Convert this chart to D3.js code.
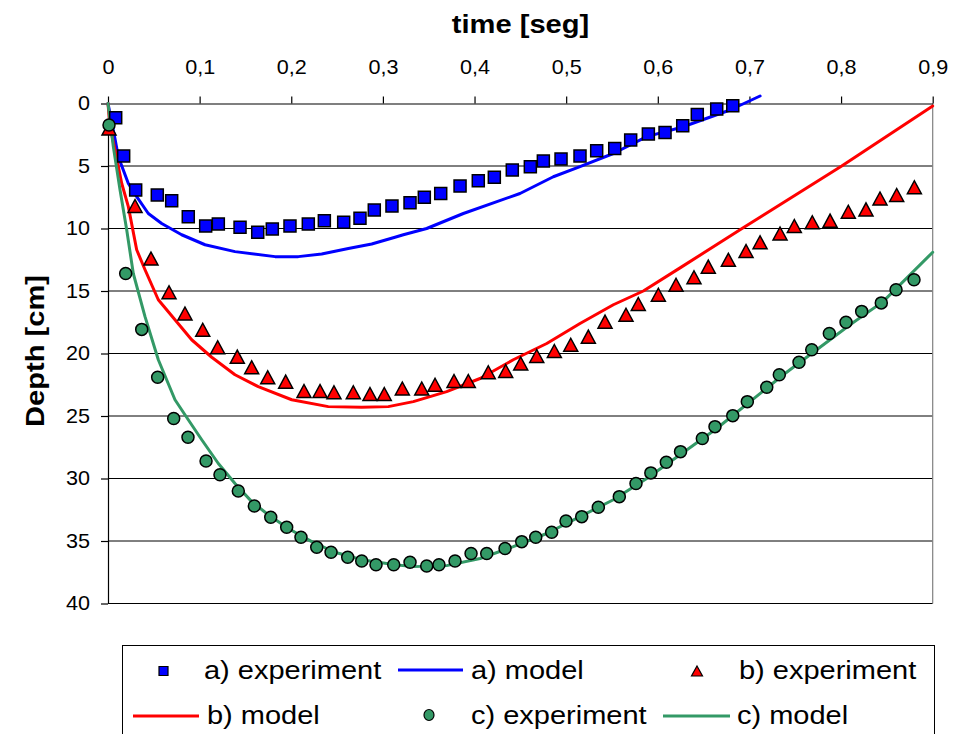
<!DOCTYPE html>
<html>
<head>
<meta charset="utf-8">
<script src="https://cdn.jsdelivr.net/npm/d3@7"></script>
<style>
  html, body { margin: 0; padding: 0; background: #fff; }
  svg { display: block; }
  text { font-family: "Liberation Sans", Arial, sans-serif; fill: #000; }
</style>
</head>
<body>
<div id="chart"></div>
<script>
// Axis ticks
const timeTicks = [0, 0.1, 0.2, 0.3, 0.4, 0.5, 0.6, 0.7, 0.8, 0.9];
const depthTicks = [0, 5, 10, 15, 20, 25, 30, 35, 40];

// a) experiment (time s, depth cm)
const aExpTime = [0.0084, 0.0171, 0.0302, 0.0538, 0.0695, 0.0876, 0.1066, 0.1204, 0.1441, 0.1634,
  0.1793, 0.1986, 0.2186, 0.2361, 0.2572, 0.2750, 0.2906, 0.3099, 0.3296, 0.3452,
  0.3631, 0.3842, 0.4041, 0.4216, 0.4412, 0.4609, 0.4751, 0.4944, 0.5151, 0.5333,
  0.5530, 0.5704, 0.5897, 0.6079, 0.6272, 0.6431, 0.6643, 0.6818];
const aExpDepth = [1.14, 4.2, 6.92, 7.32, 7.77, 9.05, 9.8, 9.64, 9.9, 10.3,
  10.04, 9.8, 9.64, 9.37, 9.5, 9.18, 8.52, 8.2, 7.93, 7.5,
  7.19, 6.6, 6.17, 5.9, 5.32, 5.05, 4.6, 4.44, 4.2, 3.78,
  3.59, 2.92, 2.44, 2.31, 1.77, 0.87, 0.44, 0.17];

// a) model
const aModelTime = [0, 0.0076, 0.0112, 0.0222, 0.0313, 0.044, 0.0586, 0.0804, 0.1059, 0.1386,
  0.1823, 0.2077, 0.2332, 0.2623, 0.2878, 0.3132, 0.3223, 0.3478, 0.3878, 0.4496,
  0.486, 0.5151, 0.5515, 0.5879, 0.6261, 0.6788, 0.7116];
const aModelDepth = [0, 2.8, 4.25, 6.4, 7.45, 8.8, 9.6, 10.5, 11.3, 11.85,
  12.25, 12.25, 12.04, 11.6, 11.24, 10.7, 10.5, 10.0, 8.8, 7.2,
  5.86, 5.05, 4.0, 2.65, 1.9, 0.52, -0.6];

// b) experiment
const bExpTime = [0.0011, 0.0295, 0.0469, 0.0666, 0.084, 0.1034, 0.1197, 0.1411, 0.1568, 0.1743,
  0.1939, 0.2139, 0.2314, 0.2466, 0.2677, 0.2859, 0.3015, 0.3212, 0.3424, 0.3569,
  0.3776, 0.3932, 0.415, 0.434, 0.4504, 0.4679, 0.4871, 0.505, 0.5242, 0.5424,
  0.5653, 0.5787, 0.6006, 0.6199, 0.6395, 0.6551, 0.677, 0.6963, 0.7116, 0.7334,
  0.749, 0.7686, 0.788, 0.8079, 0.8272, 0.8425, 0.8607, 0.88];
const bExpDepth = [2.0, 8.2, 12.4, 15.1, 16.8, 18.1, 19.5, 20.25, 21.1, 21.9,
  22.25, 23.0, 23.0, 23.1, 23.1, 23.24, 23.24, 22.8, 22.8, 22.5,
  22.2, 22.2, 21.5, 21.4, 20.8, 20.2, 19.8, 19.3, 18.65, 17.45,
  16.9, 16.04, 15.3, 14.5, 13.9, 13.05, 12.5, 11.8, 11.1, 10.4,
  9.8, 9.5, 9.37, 8.66, 8.47, 7.6, 7.32, 6.7];

// b) model
const bModelTime = [0, 0.0022, 0.0076, 0.015, 0.0222, 0.0313, 0.0404, 0.0549, 0.0731, 0.0913,
  0.1132, 0.1386, 0.164, 0.2005, 0.2404, 0.2769, 0.3059, 0.3332, 0.3696, 0.406,
  0.4423, 0.4788, 0.5151, 0.5515, 0.5842, 0.6243, 0.6919, 0.8007, 0.9];
const bModelDepth = [0, 1.85, 3.7, 6.4, 8.25, 11.7, 13.3, 15.7, 17.3, 18.9,
  20.3, 21.7, 22.65, 23.7, 24.25, 24.3, 24.25, 23.85, 23.05, 22.0,
  20.5, 19.2, 17.6, 16.1, 15.0, 13.15, 10.0, 5.0, 0.2];

// c) experiment
const cExpTime = [0.0011, 0.0193, 0.0368, 0.0542, 0.0717, 0.0873, 0.107, 0.1222, 0.1422, 0.1597,
  0.1776, 0.195, 0.2106, 0.2278, 0.2434, 0.2616, 0.2769, 0.2925, 0.3118, 0.3296,
  0.3478, 0.3612, 0.3787, 0.3962, 0.4133, 0.4333, 0.4515, 0.4668, 0.4842, 0.4998,
  0.517, 0.5351, 0.558, 0.5762, 0.5924, 0.6093, 0.6248, 0.6486, 0.6624, 0.6818,
  0.6977, 0.7189, 0.7326, 0.7541, 0.768, 0.7872, 0.8054, 0.8225, 0.8439, 0.86, 0.8796];
const cExpDepth = [1.72, 13.6, 18.07, 21.9, 25.2, 26.7, 28.6, 29.7, 31.0, 32.2,
  33.1, 33.9, 34.7, 35.5, 35.9, 36.3, 36.6, 36.9, 36.9, 36.7,
  37.0, 36.9, 36.6, 36.0, 36.0, 35.6, 35.05, 34.7, 34.3, 33.4,
  33.05, 32.3, 31.45, 30.4, 29.55, 28.7, 27.85, 26.8, 25.85, 24.97,
  23.85, 22.7, 21.7, 20.7, 19.7, 18.4, 17.5, 16.63, 15.95, 14.9, 14.1];

// c) model
const cModelTime = [0, 0.0058, 0.0131, 0.0204, 0.0276, 0.0404, 0.0549, 0.0731, 0.0876, 0.1023,
  0.1204, 0.1386, 0.1568, 0.1749, 0.1968, 0.2223, 0.2477, 0.2769, 0.3132, 0.3332,
  0.3696, 0.406, 0.4423, 0.4788, 0.5151, 0.5515, 0.5879, 0.6243, 0.6643, 0.737,
  0.8098, 0.8458, 0.9];
const cModelDepth = [0, 3.45, 6.9, 10.1, 13.6, 17.05, 20.5, 23.7, 25.3, 26.9,
  28.8, 30.4, 31.85, 32.9, 34.0, 35.05, 35.9, 36.5, 36.9, 37.05,
  36.97, 36.4, 35.45, 34.4, 33.05, 31.7, 30.0, 28.1, 26.0, 21.7,
  17.7, 15.85, 11.9];

const legendLabels = ["a) experiment", "a) model", "b) experiment", "b) model", "c) experiment", "c) model"];

// ---- drawing ----
const W = 958, H = 734;
const BLUE = "#0000ff", RED = "#ff0000", GREEN = "#339966";
const TEXT_SX = 1.08;   // horizontal glyph stretch of the axis texts
const LEG_SX = 1.16;    // horizontal glyph stretch of the legend texts

const svg = d3.select("#chart").append("svg")
  .attr("width", W).attr("height", H).attr("viewBox", `0 0 ${W} ${H}`);
svg.append("rect").attr("width", W).attr("height", H).attr("fill", "#fff");

const x = d3.scaleLinear().domain([0, 0.9]).range([108, 932.7]);
const y = d3.scaleLinear().domain([0, 40]).range([103.5, 603.5]);

// horizontal gridlines
svg.append("g").selectAll("line")
  .data(depthTicks.filter(d => d > 0))
  .join("line")
  .attr("x1", x(0)).attr("x2", x(0.9))
  .attr("y1", d => y(d)).attr("y2", d => y(d))
  .attr("stroke", "#000").attr("stroke-width", 1);

// right border of the plot area
svg.append("line")
  .attr("x1", x(0.9)).attr("x2", x(0.9))
  .attr("y1", y(0)).attr("y2", y(40))
  .attr("stroke", "#808080").attr("stroke-width", 1.2);

const fmtTime = d => d === 0 ? "0" : d3.format(".1f")(d).replace(".", ",");

const gx = svg.append("g").attr("transform", `translate(0,${y(0)})`)
  .call(d3.axisTop(x).tickValues(timeTicks).tickFormat(fmtTime)
    .tickSize(7).tickSizeOuter(0).tickPadding(22.5));
const gy = svg.append("g").attr("transform", `translate(${x(0)},0)`)
  .call(d3.axisLeft(y).tickValues(depthTicks).tickFormat(d3.format("d"))
    .tickSize(7).tickSizeOuter(0).tickPadding(11));

[gx, gy].forEach(g => {
  g.selectAll("path.domain").attr("stroke", "#000").attr("stroke-width", 1.2);
  g.selectAll(".tick line").attr("stroke", "#000").attr("stroke-width", 1.2);
  g.selectAll(".tick text")
    .style("font-family", '"Liberation Sans", Arial, sans-serif')
    .attr("font-size", 20).attr("fill", "#000");
});
gx.selectAll(".tick text").attr("transform", `scale(${TEXT_SX},1)`);
gy.selectAll(".tick text").attr("x", -18 / TEXT_SX).attr("transform", `scale(${TEXT_SX},1)`);

// axis titles
svg.append("text")
  .attr("transform", `translate(520.5,33) scale(1.12,1)`)
  .attr("text-anchor", "middle").attr("font-size", 26).attr("font-weight", "bold")
  .text("time [seg]");
svg.append("text")
  .attr("transform", `translate(43.5,351) rotate(-90) scale(1.12,1)`)
  .attr("text-anchor", "middle").attr("font-size", 26).attr("font-weight", "bold")
  .text("Depth [cm]");

// model curves
const pairs = (ts, ds) => ts.map((t, i) => [t, ds[i]]);
const line = d3.line().x(d => x(d[0])).y(d => y(d[1]));
const models = [
  { pts: pairs(aModelTime, aModelDepth), color: BLUE },
  { pts: pairs(bModelTime, bModelDepth), color: RED },
  { pts: pairs(cModelTime, cModelDepth), color: GREEN }
];
svg.append("g").selectAll("path")
  .data(models)
  .join("path")
  .attr("d", d => line(d.pts))
  .attr("fill", "none").attr("stroke", d => d.color)
  .attr("stroke-width", 3).attr("stroke-linejoin", "round").attr("stroke-linecap", "round");

// marker shapes
const squarePath = s => `M${-s / 2},${-s / 2}h${s}v${s}h${-s}Z`;
const trianglePath = (w, h) => `M0,${-h / 2}L${w / 2},${h / 2}L${-w / 2},${h / 2}Z`;

svg.append("g").selectAll("path")
  .data(pairs(aExpTime, aExpDepth))
  .join("path")
  .attr("transform", d => `translate(${x(d[0])},${y(d[1])})`)
  .attr("d", squarePath(12))
  .attr("fill", BLUE).attr("stroke", "#000").attr("stroke-width", 1.5);

svg.append("g").selectAll("path")
  .data(pairs(bExpTime, bExpDepth))
  .join("path")
  .attr("transform", d => `translate(${x(d[0])},${y(d[1])})`)
  .attr("d", trianglePath(14, 13))
  .attr("fill", RED).attr("stroke", "#000").attr("stroke-width", 1.5)
  .attr("stroke-linejoin", "miter");

svg.append("g").selectAll("circle")
  .data(pairs(cExpTime, cExpDepth))
  .join("circle")
  .attr("cx", d => x(d[0])).attr("cy", d => y(d[1])).attr("r", 6)
  .attr("fill", GREEN).attr("stroke", "#000").attr("stroke-width", 1.5);

// legend
const leg = svg.append("g");
leg.append("rect")
  .attr("x", 122.5).attr("y", 645.5).attr("width", 812).attr("height", 110)
  .attr("fill", "#fff").attr("stroke", "#000").attr("stroke-width", 1);

const legItems = [
  { kind: "square", color: BLUE, mx: 163.5, my: 671, tx: 204 },
  { kind: "line", color: BLUE, mx: 398, mx2: 463, my: 670, tx: 471 },
  { kind: "triangle", color: RED, mx: 697, my: 671, tx: 739 },
  { kind: "line", color: RED, mx: 133, mx2: 199, my: 716, tx: 207 },
  { kind: "circle", color: GREEN, mx: 429, my: 715, tx: 471 },
  { kind: "line", color: GREEN, mx: 663, mx2: 730, my: 716, tx: 737 }
];
legItems.forEach((it, i) => {
  if (it.kind === "line") {
    leg.append("line").attr("x1", it.mx).attr("x2", it.mx2).attr("y1", it.my).attr("y2", it.my)
      .attr("stroke", it.color).attr("stroke-width", 3);
  } else if (it.kind === "square") {
    leg.append("path").attr("transform", `translate(${it.mx},${it.my})`).attr("d", squarePath(9))
      .attr("fill", it.color).attr("stroke", "#000").attr("stroke-width", 1.2);
  } else if (it.kind === "triangle") {
    leg.append("path").attr("transform", `translate(${it.mx},${it.my})`).attr("d", trianglePath(11, 10))
      .attr("fill", it.color).attr("stroke", "#000").attr("stroke-width", 1.2);
  } else {
    leg.append("ellipse").attr("cx", it.mx).attr("cy", it.my).attr("rx", 5).attr("ry", 5.5)
      .attr("fill", it.color).attr("stroke", "#000").attr("stroke-width", 1.2);
  }
  const rowY = i < 3 ? 670 : 715;
  leg.append("text")
    .attr("transform", `translate(${it.tx},${rowY + 8.5}) scale(${LEG_SX},1)`)
    .attr("font-size", 25)
    .text(legendLabels[i]);
});
</script>
</body>
</html>
